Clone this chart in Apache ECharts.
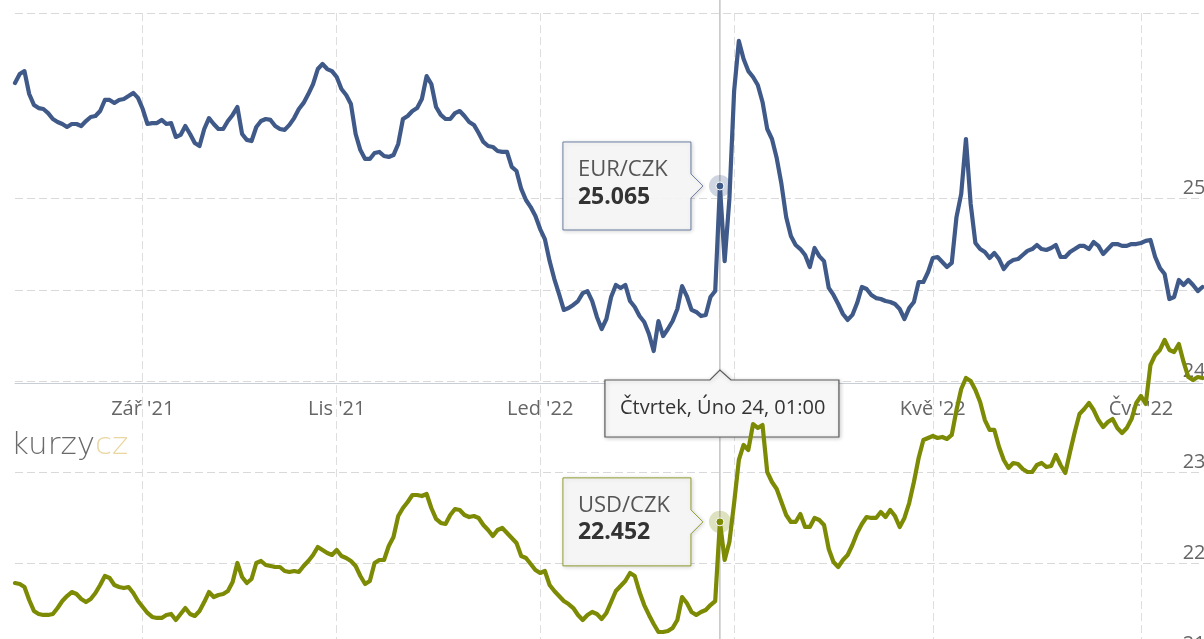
<!DOCTYPE html>
<html>
<head>
<meta charset="utf-8">
<script src="https://cdn.jsdelivr.net/npm/echarts/dist/echarts.min.js"></script>
<style>
html,body{margin:0;padding:0;background:#ffffff;overflow:hidden;}
#c{width:1204px;height:639px;}
</style>
</head>
<body>
<div id="c"></div>
<script>
// ---------------- DATA ----------------
// CNB business days (weekends and Czech holidays skipped)
const startDate = '2021-07-26';
const endDate = '2022-07-22';
const holidays = ['2021-09-28','2021-10-28','2021-11-17','2021-12-24','2022-04-15','2022-04-18','2022-07-05','2022-07-06'];

const seriesNames = ['EUR/CZK', 'USD/CZK'];

// EUR/CZK daily values
const eurValues = [
  25.622,25.670,25.686,25.562,25.503,25.486,25.481,25.459,25.427,25.411,
  25.400,25.384,25.400,25.400,25.389,25.416,25.438,25.443,25.470,25.530,
  25.530,25.514,25.530,25.535,25.551,25.568,25.541,
  25.481,25.400,25.405,25.405,25.422,25.400,25.405,25.330,25.341,25.389,
  25.346,25.297,25.281,25.373,25.432,25.400,25.373,25.373,25.416,25.449,
  25.492,25.346,25.314,25.308,25.384,25.416,25.427,25.422,25.389,25.373,
  25.368,25.395,25.432,25.481,25.514,25.562,25.616,25.697,25.724,25.697,
  25.686,25.654,25.589,25.557,25.508,25.346,25.259,25.211,25.211,25.243,
  25.249,25.227,25.222,25.232,25.292,25.427,25.443,25.470,25.486,25.535,
  25.659,25.616,25.492,25.449,25.427,25.427,25.459,25.470,25.443,25.411,
  25.395,25.351,25.303,25.281,25.276,25.254,25.249,25.249,25.168,25.146,
  25.049,24.989,24.951,24.903,24.832,24.778,24.659,24.562,24.481,24.395,
  24.405,24.422,24.443,24.486,24.497,24.443,24.357,24.292,24.346,24.465,
  24.530,24.514,24.530,24.443,24.411,24.362,24.330,24.265,24.173,24.335,
  24.254,24.292,24.335,24.400,24.524,24.470,24.395,24.384,24.362,24.368,
  24.465,24.497,25.065,24.659,24.995,25.578,25.849,25.751,25.686,25.654,
  25.611,25.519,25.373,25.319,25.216,25.076,24.897,24.795,24.746,24.724,
  24.692,24.627,24.730,24.686,24.659,24.514,24.476,24.427,24.373,24.341,
  24.368,24.432,24.519,24.508,24.476,24.459,24.454,24.443,24.438,24.427,
  24.400,24.346,24.405,24.438,24.546,24.546,24.600,24.676,24.681,24.654,
  24.627,24.649,24.897,25.022,25.319,24.968,24.757,24.724,24.708,24.676,
  24.703,24.670,24.616,24.649,24.665,24.670,24.692,24.714,24.724,24.746,
  24.724,24.719,24.730,24.746,24.681,24.681,24.708,24.724,24.741,24.741,
  24.724,24.762,24.741,24.697,24.724,24.751,24.751,24.741,24.741,24.751,
  24.751,24.757,24.768,24.773,24.681,24.622,24.589,24.454,24.465,24.557,
  24.530,24.557,24.530,24.497,24.519
];

// USD/CZK daily values
const usdValues = [
  21.780,21.769,21.736,21.593,21.473,21.440,21.429,21.429,21.440,21.505,
  21.582,21.637,21.681,21.659,21.604,21.571,21.604,21.670,21.758,21.857,
  21.835,21.758,21.736,21.725,21.736,21.670,21.582,
  21.516,21.451,21.407,21.396,21.396,21.429,21.440,21.374,21.440,21.505,
  21.440,21.418,21.473,21.571,21.681,21.626,21.648,21.659,21.692,21.791,
  22.000,21.846,21.780,21.824,22.000,22.022,21.978,21.967,21.956,21.956,
  21.912,21.901,21.912,21.901,21.967,22.022,22.088,22.176,22.143,22.110,
  22.088,22.143,22.077,22.055,22.022,21.967,21.857,21.769,21.802,22.000,
  22.033,22.033,22.187,22.286,22.516,22.604,22.670,22.747,22.747,22.736,
  22.758,22.604,22.484,22.440,22.429,22.527,22.593,22.582,22.527,22.505,
  22.516,22.495,22.418,22.363,22.297,22.363,22.385,22.330,22.275,22.220,
  22.077,22.055,21.989,21.923,21.890,21.912,21.758,21.692,21.637,21.582,
  21.549,21.505,21.429,21.374,21.429,21.462,21.440,21.385,21.451,21.571,
  21.692,21.747,21.802,21.890,21.857,21.681,21.538,21.429,21.330,21.242,
  21.242,21.253,21.286,21.374,21.626,21.560,21.462,21.429,21.462,21.484,
  21.538,21.582,22.452,22.033,22.231,22.659,23.132,23.297,23.242,23.527,
  23.484,23.516,23.000,22.890,22.813,22.670,22.527,22.451,22.451,22.538,
  22.396,22.396,22.495,22.473,22.418,22.154,22.011,21.956,22.033,22.088,
  22.198,22.330,22.429,22.505,22.495,22.495,22.560,22.505,22.582,22.516,
  22.396,22.495,22.659,22.890,23.154,23.352,23.374,23.396,23.374,23.385,
  23.363,23.407,23.681,23.912,24.033,24.000,23.901,23.769,23.571,23.462,
  23.462,23.275,23.132,23.044,23.099,23.088,23.033,23.000,23.000,23.077,
  23.099,23.055,23.066,23.187,23.077,22.989,23.220,23.440,23.637,23.692,
  23.758,23.681,23.571,23.495,23.549,23.582,23.484,23.429,23.484,23.582,
  23.758,23.835,23.747,24.176,24.286,24.341,24.451,24.341,24.319,24.407,
  24.209,24.044,24.011,24.044,24.033
];

// x-axis tick labels (first business day of every second month)
const tickLabels = {
  '2021-09-01': "Zář '21",
  '2021-11-01': "Lis '21",
  '2022-01-03': "Led '22",
  '2022-03-01': "Bře '22",
  '2022-05-02': "Kvě '22",
  '2022-07-01': "Čvc '22"
};
// y-axis tick values
const eurTicks = {min: 24, max: 26, step: 1, shown: [25]};
const usdTicks = {min: 21, max: 25, step: 1, shown: [21, 22, 23, 24]};

// hovered point (tooltips)
const hoverDate = '2022-02-24';
const hoverLabel = 'Čtvrtek, Úno 24, 01:00';

// logo
const logoParts = ['kurzy', 'cz'];

// ---------------- BUILD ----------------
function buildBusinessDays(start, end, skip) {
  const out = [];
  const d = new Date(start + 'T00:00:00Z');
  const e = new Date(end + 'T00:00:00Z');
  while (d <= e) {
    const wd = d.getUTCDay();
    const s = d.toISOString().slice(0, 10);
    if (wd !== 0 && wd !== 6 && skip.indexOf(s) < 0) out.push(s);
    d.setUTCDate(d.getUTCDate() + 1);
  }
  return out;
}
const categories = buildBusinessDays(startDate, endDate, holidays);

const EUR_COLOR = '#3f5989';
const USD_COLOR = '#7c8a04';
const FONT = '"Open Sans", "Noto Sans", "DejaVu Sans", sans-serif';
const GRID_COLOR = '#d9d9d9';
const GRID_DASH = [8, 4];
const tickInterval = function (i, v) { return Object.prototype.hasOwnProperty.call(tickLabels, v); };

const chart = echarts.init(document.getElementById('c'), null, {renderer: 'canvas', width: 1204, height: 639});

const yLabel = {
  inside: true, margin: -3, color: '#666666', fontSize: 20, fontFamily: FONT,
  verticalAlign: 'bottom', lineHeight: 20
};

const option = {
  animation: false,
  backgroundColor: '#ffffff',
  grid: [
    {left: 15, right: 1.5, top: 13, height: 370, outerBoundsMode: 'none'},
    {left: 15, right: 1.5, top: 290, height: 364, outerBoundsMode: 'none'},
    {left: 15, right: 1.5, top: 13, height: 660, outerBoundsMode: 'none'}
  ],
  xAxis: [
    {
      gridIndex: 0, type: 'category', data: categories, boundaryGap: false,
      axisLine: {show: true, lineStyle: {color: '#c9ced6', width: 1}},
      axisTick: {show: false},
      axisLabel: {
        interval: tickInterval,
        formatter: function (v) { return tickLabels[v] || ''; },
        color: '#666666', fontSize: 20, fontFamily: FONT, margin: 16, lineHeight: 20
      },
      splitLine: {show: false}
    },
    {gridIndex: 1, type: 'category', data: categories, boundaryGap: false, show: false},
    {
      gridIndex: 2, type: 'category', data: categories, boundaryGap: false,
      axisLine: {show: false}, axisTick: {show: false}, axisLabel: {show: false},
      splitLine: {show: true, interval: tickInterval, lineStyle: {color: '#dedede', type: GRID_DASH, width: 1}}
    }
  ],
  yAxis: [
    {
      gridIndex: 0, type: 'value', min: eurTicks.min, max: eurTicks.max, interval: eurTicks.step,
      position: 'right', axisLine: {show: false}, axisTick: {show: false},
      axisLabel: Object.assign({}, yLabel, {formatter: function (v) { return eurTicks.shown.indexOf(v) >= 0 ? String(v) : ''; }}),
      splitLine: {show: true, lineStyle: {color: GRID_COLOR, type: GRID_DASH, width: 1}}
    },
    {
      gridIndex: 1, type: 'value', min: usdTicks.min, max: usdTicks.max, interval: usdTicks.step,
      position: 'right', axisLine: {show: false}, axisTick: {show: false},
      axisLabel: Object.assign({}, yLabel, {formatter: function (v) { return usdTicks.shown.indexOf(v) >= 0 ? String(v) : ''; }}),
      splitLine: {show: true, lineStyle: {color: GRID_COLOR, type: GRID_DASH, width: 1}}
    },
    {gridIndex: 2, type: 'value', min: 0, max: 1, show: false}
  ],
  series: [
    {
      name: seriesNames[0], type: 'line', xAxisIndex: 0, yAxisIndex: 0, data: eurValues,
      symbol: 'none', z: 3,
      lineStyle: {color: EUR_COLOR, width: 4.2, join: 'round', cap: 'round'},
      itemStyle: {color: EUR_COLOR}
    },
    {
      name: seriesNames[1], type: 'line', xAxisIndex: 1, yAxisIndex: 1, data: usdValues,
      symbol: 'none', z: 3,
      lineStyle: {color: USD_COLOR, width: 4.2, join: 'round', cap: 'round'},
      itemStyle: {color: USD_COLOR}
    }
  ]
};
chart.setOption(option);

// ---------------- OVERLAYS (positions from the chart's own scales) ----------------
const hi = categories.indexOf(hoverDate);
const pE = chart.convertToPixel({gridIndex: 0}, [hi, eurValues[hi]]);
const pU = chart.convertToPixel({gridIndex: 1}, [hi, usdValues[hi]]);
const axisY = chart.convertToPixel({gridIndex: 0}, [hi, eurTicks.min])[1];
const cx = pE[0];

function tipBox(p, name, value, border) {
  const L = p[0] - 157, R = p[0] - 29, T = p[1] - 44, B = p[1] + 44, tipX = p[0] - 17;
  return [
    {
      type: 'polygon', z: 50,
      shape: {points: [[L, T], [R, T], [R, p[1] - 12], [tipX, p[1]], [R, p[1] + 12], [R, B], [L, B]]},
      style: {fill: 'rgba(247,247,247,0.92)', stroke: border, lineWidth: 1,
        shadowBlur: 4, shadowOffsetX: 1, shadowOffsetY: 1, shadowColor: 'rgba(0,0,0,0.18)'}
    },
    {type: 'text', z: 51, x: L + 15, y: p[1] - 16,
      style: {text: name, fill: '#555555', fontSize: 22, fontFamily: FONT, verticalAlign: 'middle', align: 'left'}},
    {type: 'text', z: 51, x: L + 15, y: p[1] + 11,
      style: {text: value, fill: '#333333', fontSize: 23, fontWeight: 'bold', fontFamily: FONT, verticalAlign: 'middle', align: 'left'}}
  ];
}
function marker(p, halo, color) {
  return [
    {type: 'circle', z: 60, shape: {cx: p[0], cy: p[1], r: 11}, style: {fill: halo}},
    {type: 'circle', z: 61, shape: {cx: p[0], cy: p[1], r: 4}, style: {fill: color, stroke: '#ffffff', lineWidth: 1}}
  ];
}

const elements = [].concat(
  [{type: 'line', z: 1, shape: {x1: cx, y1: 0, x2: cx, y2: 639}, style: {stroke: '#a6a6a6', lineWidth: 1}}],
  marker(pE, 'rgba(63,89,137,0.25)', EUR_COLOR),
  marker(pU, 'rgba(124,138,4,0.25)', USD_COLOR),
  tipBox(pE, seriesNames[0], eurValues[hi].toFixed(3), 'rgba(63,89,137,0.75)'),
  tipBox(pU, seriesNames[1], usdValues[hi].toFixed(3), 'rgba(124,138,4,0.8)'),
  [
    {
      type: 'polygon', z: 2,
      shape: {points: [[cx - 115, axisY - 3], [cx - 10, axisY - 3], [cx, axisY - 13], [cx + 11, axisY - 3],
        [cx + 119, axisY - 3], [cx + 119, axisY + 54], [cx - 115, axisY + 54]]},
      style: {fill: '#f7f7f7', stroke: '#5a5a5a', lineWidth: 1.2,
        shadowBlur: 4, shadowOffsetX: 1, shadowOffsetY: 1, shadowColor: 'rgba(0,0,0,0.2)'}
    },
    {type: 'text', z: 2, x: cx - 100, y: axisY + 25,
      style: {text: hoverLabel, fill: '#333333', fontSize: 20, fontFamily: FONT, verticalAlign: 'middle', align: 'left'}},
    {
      type: 'text', z: 10, x: 11, y: 430,
      style: {
        text: '{a|' + logoParts[0] + '}{b|' + logoParts[1] + '}',
        verticalAlign: 'top', align: 'left',
        rich: {
          a: {fontSize: 31, fontFamily: '"DejaVu Sans", sans-serif', fontWeight: 200, fill: '#6a6a6a'},
          b: {fontSize: 31, fontFamily: '"DejaVu Sans", sans-serif', fontWeight: 200, fill: '#ead6a0'}
        }
      }
    }
  ]
);
chart.setOption({graphic: {elements: elements}});
</script>
</body>
</html>
